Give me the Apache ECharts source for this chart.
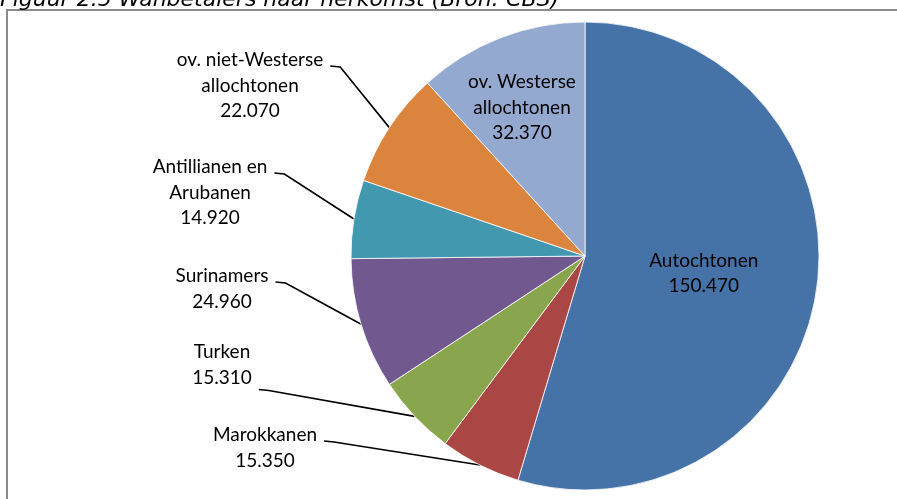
<!DOCTYPE html>
<html lang="nl">
<head>
<meta charset="UTF-8">
<title>Wanbetalers naar herkomst</title>
<script src="https://cdn.jsdelivr.net/npm/echarts@6/dist/echarts.min.js"></script>
<style>
    html, body { margin: 0; padding: 0; background: #fff; }
    #container { width: 897px; height: 499px; }
</style>
</head>
<body>
<div id="container"></div>
<script type="text/javascript">
    // data (Bron: CBS)
    var categories = ['Autochtonen', 'Marokkanen', 'Turken', 'Surinamers',
        'Antillianen en\nArubanen', 'ov. niet-Westerse\nallochtonen', 'ov. Westerse\nallochtonen'];
    var values = [150470, 15350, 15310, 24960, 14920, 22070, 32370];
    var colors = ['#4572A7', '#AA4643', '#89A54E', '#71588F', '#4198AF', '#DB843D', '#93A9CF'];

    // where each label sits: centre x, first line centre y, line the leader hooks onto (-1 = none)
    var labelSpots = [null, [265, 435, 0], [222, 352, 1], [222, 276, 0], [210, 167, 0], [250, 60, 0], [522, 82, -1]];
    var lineH = 25.5;

    function fmt(v) {
        return String(v).replace(/\B(?=(\d{3})+(?!\d))/g, '.');
    }

    var data = [];
    for (var i = 0; i < values.length; i++) {
        var item = { name: categories[i], value: values[i], itemStyle: { color: colors[i] } };
        if (i === 0 || i === 6) {
            item.label = { position: 'inside' };
            item.labelLine = { show: false };
        }
        data.push(item);
    }

    var dom = document.getElementById('container');
    var myChart = echarts.init(dom);
    var option = {
        animation: false,
        textStyle: { fontFamily: 'Lato' },
        graphic: [
            {
                type: 'text',
                x: 0, y: 0.5,
                style: {
                    text: 'Figuur 2.5 Wanbetalers naar herkomst (Bron: CBS)',
                    font: 'italic 22px "DejaVu Sans"',
                    fill: '#000',
                    verticalAlign: 'middle'
                },
                silent: true
            },
            {
                // frame: only the left and top edges are in view
                type: 'polyline',
                shape: { points: [[7, 600], [7, 10], [1000, 10]] },
                style: { fill: null, stroke: '#8a8a8a', lineWidth: 2 },
                silent: true,
                z: -1
            }
        ],
        series: [
            {
                type: 'pie',
                center: [585, 256],
                radius: 234,
                startAngle: 90,
                clockwise: true,
                avoidLabelOverlap: false,
                emphasis: { disabled: true },
                itemStyle: { borderColor: '#fff', borderWidth: 0.8 },
                label: {
                    show: true,
                    color: '#000',
                    fontFamily: 'Lato',
                    fontSize: 19,
                    lineHeight: lineH,
                    align: 'center',
                    formatter: function (p) {
                        return p.name + '\n' + fmt(p.value);
                    }
                },
                labelLine: {
                    show: true,
                    length: 10,
                    length2: 10,
                    lineStyle: { color: '#000', width: 1.6 }
                },
                labelLayout: function (p) {
                    var s = labelSpots[p.dataIndex];
                    if (!s) return {};
                    var out = { x: s[0], y: s[1] - lineH / 2, align: 'center', verticalAlign: 'top' };
                    if (s[2] >= 0 && p.labelLinePoints) {
                        var right = s[0] + p.labelRect.width / 2;
                        var ay = s[1] + s[2] * lineH + (s[2] ? 12 : 6);
                        out.labelLinePoints = [p.labelLinePoints[0], [right + 17, ay + 1], [right + 7, ay]];
                    }
                    return out;
                },
                data: data
            }
        ]
    };
    myChart.setOption(option);
</script>
</body>
</html>
